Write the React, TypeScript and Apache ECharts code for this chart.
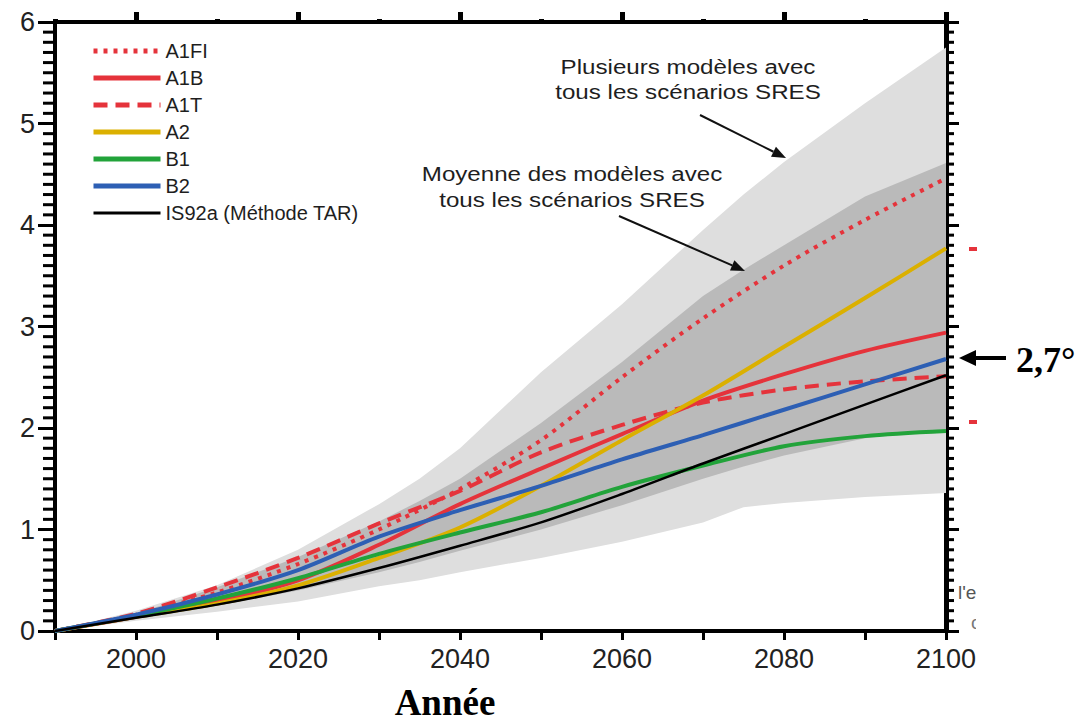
import React, { useEffect, useRef } from 'react';
import * as echarts from 'echarts';

const YEARS = [1990, 2000, 2010, 2020, 2030, 2040, 2050, 2060, 2070, 2080, 2090, 2100];
const A1FI = [0, 0.16, 0.38, 0.66, 1.0, 1.4, 1.88, 2.5, 3.08, 3.6, 4.05, 4.46];
const A1B = [0, 0.14, 0.29, 0.5, 0.85, 1.25, 1.6, 1.94, 2.27, 2.53, 2.76, 2.94];
const A1T = [0, 0.17, 0.43, 0.72, 1.06, 1.38, 1.76, 2.03, 2.25, 2.38, 2.46, 2.51];
const A2 = [0, 0.14, 0.27, 0.45, 0.72, 1.02, 1.43, 1.88, 2.32, 2.8, 3.28, 3.77];
const B1 = [0, 0.15, 0.32, 0.52, 0.76, 0.97, 1.17, 1.42, 1.63, 1.82, 1.92, 1.97];
const B2 = [0, 0.16, 0.36, 0.6, 0.93, 1.19, 1.43, 1.69, 1.93, 2.18, 2.43, 2.68];
const IS92A = [0, 0.13, 0.26, 0.42, 0.62, 0.84, 1.07, 1.35, 1.65, 1.94, 2.23, 2.52];

const BAND_YEARS = [1990, 2000, 2010, 2020, 2030, 2035, 2040, 2050, 2060, 2070, 2075, 2080, 2090, 2100];
const OUTER_UPPER = [0, 0.2, 0.45, 0.8, 1.25, 1.5, 1.8, 2.55, 3.22, 3.95, 4.3, 4.62, 5.2, 5.75];
const OUTER_LOWER = [0, 0.1, 0.19, 0.29, 0.44, 0.5, 0.58, 0.72, 0.88, 1.07, 1.22, 1.26, 1.32, 1.36];
const INNER_UPPER = [0, 0.17, 0.43, 0.73, 1.08, 1.28, 1.5, 2.05, 2.65, 3.3, 3.56, 3.8, 4.28, 4.61];
const INNER_LOWER = [0, 0.13, 0.25, 0.4, 0.58, 0.68, 0.79, 1.0, 1.24, 1.5, 1.62, 1.73, 1.9, 1.99];

const X_MAJOR = [2000, 2020, 2040, 2060, 2080, 2100];
const Y_MINOR_STEP = 0.1;
const Y_MAX = 6;
const SERIES_NAMES = ['A1FI', 'A1B', 'A1T', 'A2', 'B1', 'B2', 'IS92a (Méthode TAR)'];
const NOTE_ALL = 'Plusieurs modèles avec\ntous les scénarios SRES';
const NOTE_MEAN = 'Moyenne des modèles avec\ntous les scénarios SRES';
const VALUE_LABEL = '2,7°';
const X_TITLE = 'Année';

const RED = '#e5333b';

export default function App() {
  const ref = useRef<HTMLDivElement>(null);
  useEffect(() => {
    document.body.style.margin = '0';
    const chart = echarts.init(ref.current!, null, { renderer: 'svg' });

    const band = (upper: number[], lower: number[], fill: string) => ({
      type: 'custom',
      coordinateSystem: 'cartesian2d',
      silent: true,
      z: 1,
      clip: true,
      data: [[BAND_YEARS[0], 0]],
      encode: { x: 0, y: 1 },
      renderItem: (_p: any, api: any) => {
        const pts: number[][] = [];
        BAND_YEARS.forEach((y, i) => pts.push(api.coord([y, upper[i]])));
        for (let i = BAND_YEARS.length - 1; i >= 0; i--) pts.push(api.coord([BAND_YEARS[i], lower[i]]));
        return { type: 'polygon', shape: { points: pts }, style: { fill, stroke: 'none' } };
      },
    });

    const minorVals: number[][] = [];
    for (let i = 1; i < Math.round(Y_MAX / Y_MINOR_STEP); i++) {
      if (i % 10 !== 0) minorVals.push([YEARS[0], Math.round(i * Y_MINOR_STEP * 10) / 10]);
    }
    const minorTicks = {
      type: 'custom',
      coordinateSystem: 'cartesian2d',
      silent: true,
      clip: false,
      z: 10,
      data: minorVals,
      encode: { x: 0, y: 1 },
      renderItem: (_p: any, api: any) => {
        const v = api.value(1);
        const l = api.coord([YEARS[0], v]);
        const r = api.coord([YEARS[YEARS.length - 1], v]);
        return {
          type: 'group',
          children: [
            { type: 'rect', shape: { x: l[0] - 12, y: l[1] - 1.5, width: 12, height: 3 }, style: { fill: '#000' } },
            { type: 'rect', shape: { x: r[0], y: r[1] - 1.5, width: 8, height: 3 }, style: { fill: '#000' } },
          ],
        };
      },
    };

    const line = (name: string, vals: number[], color: string, width: number, type: any, z = 3) => ({
      type: 'line',
      name,
      data: YEARS.map((y, i) => [y, vals[i]]),
      symbol: 'none',
      showSymbol: false,
      smooth: 0.3,
      z,
      lineStyle: { color, width, type },
      itemStyle: { color },
    });

    const font = 'Liberation Sans, Arial, sans-serif';
    const serif = 'Liberation Serif, Times New Roman, serif';

    const arrow = (x1: number, y1: number, tx: number, ty: number, head = 14, half = 5.5) => {
      const dx = tx - x1, dy = ty - y1;
      const len = Math.hypot(dx, dy);
      const ux = dx / len, uy = dy / len;
      const bx = tx - head * ux, by = ty - head * uy;
      const nx = -uy, ny = ux;
      return [
        { type: 'line', z: 50, shape: { x1, y1, x2: bx, y2: by }, style: { stroke: '#111', lineWidth: 2 } },
        {
          type: 'polygon', z: 50,
          shape: { points: [[tx, ty], [bx + half * nx, by + half * ny], [bx - half * nx, by - half * ny]] },
          style: { fill: '#111' },
        },
      ];
    };

    const option: any = {
      animation: false,
      grid: { left: 55, right: 139, top: 22, bottom: 93, containLabel: false },
      legend: {
        orient: 'vertical',
        left: 86,
        top: 36,
        itemWidth: 67,
        itemHeight: 12,
        itemGap: 7,
        selectedMode: false,
        itemStyle: { opacity: 0 },
        data: SERIES_NAMES.map((n, i) => ({
          name: n,
          itemStyle: { opacity: 0 },
          lineStyle: { width: i === SERIES_NAMES.length - 1 ? 3 : 5 },
        })),
        textStyle: { fontSize: 20, fontFamily: font, color: '#1e1e1e', lineHeight: 20 },
      },
      xAxis: [
        {
          type: 'value', position: 'bottom', min: 1990, max: 2100, interval: 10,
          axisLine: { show: true, onZero: false, lineStyle: { color: '#000', width: 4 } },
          axisTick: { show: true, length: 9, lineStyle: { color: '#000', width: 3 } },
          axisLabel: {
            formatter: (v: number) => (v % 20 === 0 ? String(v) : ''),
            fontSize: 27, color: '#222', margin: 14, fontFamily: font,
          },
          splitLine: { show: false },
        },
        {
          type: 'value', position: 'top', min: 1990, max: 2100, interval: 10,
          axisLine: { show: true, onZero: false, lineStyle: { color: '#000', width: 4 } },
          axisTick: { show: true, length: 3, lineStyle: { color: '#000', width: 5 } },
          axisLabel: { show: false },
          splitLine: { show: false },
        },
        {
          type: 'value', position: 'top', min: 1990, max: 2100,
          axisLine: { show: false, onZero: false },
          axisTick: { show: true, customValues: X_MAJOR, length: 10, lineStyle: { color: '#000', width: 5 } },
          axisLabel: { show: false, customValues: X_MAJOR },
          splitLine: { show: false },
        },
      ],
      yAxis: [
        {
          type: 'value', position: 'left', min: 0, max: 6, interval: 1,
          axisLine: { show: true, onZero: false, lineStyle: { color: '#000', width: 4 } },
          axisTick: { show: true, length: 17, lineStyle: { color: '#000', width: 3 } },
          axisLabel: { fontSize: 27, color: '#222', margin: 20, fontFamily: font },
          splitLine: { show: false },
        },
        {
          type: 'value', position: 'right', min: 0, max: 6, interval: 1,
          axisLine: { show: true, onZero: false, lineStyle: { color: '#000', width: 5 } },
          axisTick: { show: true, length: 13, lineStyle: { color: '#000', width: 3 } },
          axisLabel: { show: false },
          splitLine: { show: false },
        },
      ],
      series: [
        band(OUTER_UPPER, OUTER_LOWER, '#dedede'),
        band(INNER_UPPER, INNER_LOWER, '#bababa'),
        minorTicks,
        line('A1FI', A1FI, RED, 4, [4, 6]),
        line('A1B', A1B, RED, 4, 'solid'),
        line('A1T', A1T, RED, 4, [14, 8]),
        line('A2', A2, '#dbb000', 4, 'solid'),
        line('B1', B1, '#22a33a', 4, 'solid'),
        line('B2', B2, '#2d5fb4', 4, 'solid'),
        line('IS92a (Méthode TAR)', IS92A, '#000', 2.5, 'solid', 4),
      ],
      graphic: [
        {
          type: 'text', x: 688, y: 80, scaleX: 1.15, z: 50,
          style: {
            text: NOTE_ALL, textAlign: 'center', textVerticalAlign: 'middle',
            fontSize: 21, lineHeight: 25, fontFamily: font, fill: '#1e1e1e',
          },
        },
        {
          type: 'text', x: 572, y: 187, scaleX: 1.15, z: 50,
          style: {
            text: NOTE_MEAN, textAlign: 'center', textVerticalAlign: 'middle',
            fontSize: 21, lineHeight: 26, fontFamily: font, fill: '#1e1e1e',
          },
        },
        ...arrow(700, 115, 786, 158),
        ...arrow(619, 216, 745, 271),
        { type: 'line', z: 50, shape: { x1: 972, y1: 358, x2: 1006, y2: 358 }, style: { stroke: '#000', lineWidth: 4 } },
        { type: 'polygon', z: 50, shape: { points: [[959, 358], [976, 350], [976, 366]] }, style: { fill: '#000' } },
        {
          type: 'text', x: 1016, y: 360, z: 50,
          style: {
            text: VALUE_LABEL, textAlign: 'left', textVerticalAlign: 'middle',
            fontSize: 36, fontWeight: 'bold', fontFamily: serif, fill: '#000',
          },
        },
        { type: 'rect', z: 50, shape: { x: 969, y: 247, width: 8, height: 4 }, style: { fill: RED } },
        { type: 'rect', z: 50, shape: { x: 969, y: 420, width: 8, height: 4 }, style: { fill: RED } },
        {
          type: 'text', x: 958, y: 592, z: 90,
          style: { text: "l'e", textVerticalAlign: 'middle', fontSize: 19, fontFamily: font, fill: '#555' },
        },
        {
          type: 'text', x: 971, y: 622, z: 90,
          style: { text: 'c', textVerticalAlign: 'middle', fontSize: 19, fontFamily: font, fill: '#777' },
        },
        { type: 'rect', z: 100, shape: { x: 976, y: 575, width: 109, height: 110 }, style: { fill: '#fff' } },
        {
          type: 'text', x: 445, y: 721, z: 50,
          style: {
            text: X_TITLE, textAlign: 'center', textVerticalAlign: 'bottom',
            fontSize: 37, fontWeight: 'bold', fontFamily: serif, fill: '#000',
          },
        },
      ],
    };

    chart.setOption(option);
    return () => chart.dispose();
  }, []);
  return <div ref={ref} style={{ width: 1085, height: 724 }} />;
}
